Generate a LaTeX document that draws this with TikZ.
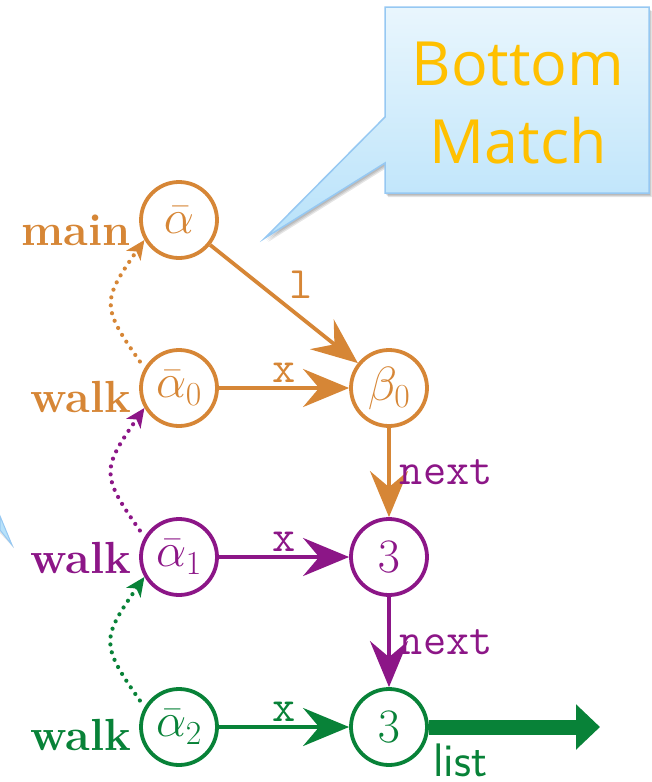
\RequirePackage{fix-cm}
\documentclass[tikz,border=0pt]{standalone}
\usepackage{fontspec}
\newfontfamily\calloutfont{Open Sans}
\usetikzlibrary{arrows.meta}

\definecolor{cOr}{RGB}{214,134,54}
\definecolor{cPu}{RGB}{140,22,135}
\definecolor{cGr}{RGB}{8,130,56}
\definecolor{cTop}{RGB}{233,246,253}
\definecolor{cBot}{RGB}{184,226,250}
\definecolor{cBorder}{RGB}{150,200,242}
\definecolor{cGold}{RGB}{255,192,0}

\tikzset{
  st/.style={circle, draw=#1, text=#1, line width=3.8pt, minimum size=76pt, inner sep=0pt,
    font=\fontsize{48}{54}\selectfont},
  arr/.style={draw=#1, line width=3.8pt,
    -{Stealth[length=46pt,width=38pt,inset=16pt]}},
  dotarr/.style={draw=#1, line width=4.2pt, line cap=round,
    dash pattern=on 0pt off 8pt, shorten <=8pt,
    -{Stealth[length=19pt,width=17pt,inset=5pt]}},
  vname/.style={text=#1, font=\bfseries, inner sep=0pt},
  fld/.style={text=#1, font=\ttfamily, inner sep=4pt},
  bigarrow/.style={draw=cGr, line width=15pt,
    -{Triangle[length=24pt,width=44pt]}},
}

\def\calloutpath{(385,-7) -- (649,-7) -- (649,-193) -- (385,-193) -- (385,-163) -- (265,-238) -- (385,-117) -- cycle}

\begin{document}
\fontsize{45}{50}\selectfont
\begin{tikzpicture}[x=1pt,y=1pt]
\useasboundingbox (0,0) rectangle (652,-782);

% speech bubble with soft shadow
\foreach \s in {1,2,3}
  \fill[black, opacity=0.10, shift={(\s,-\s-1)}] \calloutpath;
\shade[top color=cTop, bottom color=cBot, draw=cBorder, line width=1.5pt] \calloutpath;
\node[text=cGold, anchor=base, inner sep=0pt,
      font=\calloutfont\fontsize{61}{70}\selectfont] (bub1) at (518,-85) {Bottom};
\node[text=cGold, anchor=base, inner sep=0pt,
      font=\calloutfont\fontsize{61}{70}\selectfont] (bub2) at (518,-163) {Match};

% pointer of a second bubble at the left border
\fill[black, opacity=0.10] (0,-519) -- (14,-548) -- (0,-533) -- cycle;
\filldraw[fill=cBot, draw=cBorder, line width=1pt] (0,-516) -- (12,-545) -- (0,-530) -- cycle;

% heap cells
\node[st=cOr] (a)  at (179,-220) {$\bar\alpha$};
\node[st=cOr] (a0) at (179,-388) {$\bar\alpha_0$};
\node[st=cOr] (b0) at (389,-388) {$\beta_0$};
\node[st=cPu] (a1) at (179,-557) {$\bar\alpha_1$};
\node[st=cPu] (n1) at (389,-557) {$3$};
\node[st=cGr] (a2) at (179,-727) {$\bar\alpha_2$};
\node[st=cGr] (n2) at (389,-727) {$3$};

% variable names
\node[vname=cOr, anchor=base east] (vmain) at (131,-245) {main};
\node[vname=cOr, anchor=base east] (vw0)   at (131,-412) {walk};
\node[vname=cPu, anchor=base east] (vw1)   at (131,-573) {walk};
\node[vname=cGr, anchor=base east] (vw2)   at (131,-750) {walk};

% pointer fields
\draw[arr=cOr] (a) -- node[fld=cOr, above right, pos=0.5] (fl) {l} (b0);
\draw[arr=cOr] (a0) -- node[fld=cOr, above] (fx0) {x} (b0);
\draw[arr=cOr] (b0) -- node[fld=cPu, right=5pt] (fn0) {next} (n1);
\draw[arr=cPu] (a1) -- node[fld=cPu, above] (fx1) {x} (n1);
\draw[arr=cPu] (n1) -- node[fld=cPu, right=5pt] (fn1) {next} (n2);
\draw[arr=cGr] (a2) -- node[fld=cGr, above] (fx2) {x} (n2);

% remaining list
\coordinate (lend) at (600,-727);
\draw[bigarrow] (n2.east) -- (lend);
\node[text=cGr, font=\sffamily\fontsize{47}{50}\selectfont, anchor=base west, inner sep=0pt] (flist) at (433,-776) {list};

% walk history
\draw[dotarr=cOr] (a0.150) to[out=125,in=235,looseness=1.5] (a.210);
\draw[dotarr=cPu] (a1.150) to[out=125,in=235,looseness=1.5] (a0.210);
\draw[dotarr=cGr] (a2.150) to[out=125,in=235,looseness=1.5] (a1.210);
\end{tikzpicture}
\end{document}
